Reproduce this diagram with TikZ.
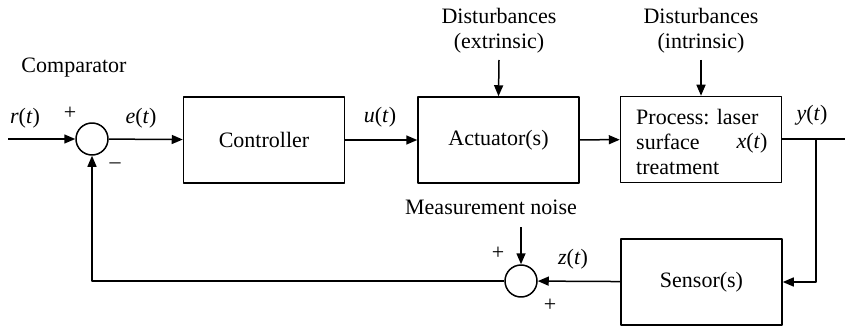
\documentclass[tikz,border=0pt]{standalone}
\usepackage{fontspec}
\setmainfont{Liberation Serif}
\usetikzlibrary{arrows.meta}
\tikzset{
  every picture/.style={line join=round, >={Triangle[length=11pt,width=9pt]}},
  blk/.style={draw, line width=1.5pt, minimum width=161pt, minimum height=86pt, inner sep=0pt},
  sumc/.style={draw, circle, line width=1.5pt, minimum size=32pt, inner sep=0pt},
  sig/.style={inner sep=0pt},
  wire/.style={line width=1.5pt},
}
\newcommand{\sg}[1]{\textit{#1}(\textit{t})}

\begin{document}
\begin{tikzpicture}[x=1pt,y={(0pt,-1pt)},font=\fontsize{22}{25}\selectfont]
\useasboundingbox (0,0) rectangle (845,326);
% blocks
\node[sumc](sum1) at (92,139) {};
\node[blk](ctrl) at (264,140) {Controller};
\node[blk](act) at (498.5,140) {Actuator(s)};
\node[blk](proc) at (701,139.5) {};
\node[sig,align=left,anchor=west](proctxt) at (636,142) {Process: laser\\surface\\treatment};
\node[blk](sens) at (701.5,282) {Sensor(s)};
\node[sumc](sum2) at (521,281) {};
% texts
\node[sig](cmp) at (74,68) {Comparator};
\node[sig,align=center](dext) at (499,31) {Disturbances\\(extrinsic)};
\node[sig,align=center](dint) at (701,31) {Disturbances\\(intrinsic)};
\node[sig](noise) at (491,207) {Measurement noise};
\node[sig](rl) at (25,118) {\sg{r}};
\node[sig](p1) at (70,113) {+};
\node[sig](el) at (141,118) {\sg{e}};
\node[sig](m1) at (115,166) {--};
\node[sig](ul) at (380,117) {\sg{u}};
\node[sig](xl) at (752,143) {\sg{x}};
\node[sig](yl) at (812,115) {\sg{y}};
\node[sig](zl) at (573,259) {\sg{z}};
\node[sig](p2) at (498,253) {+};
\node[sig](p3) at (550,305) {+};
% free ends
\coordinate(in) at (8,139);
\coordinate(out) at (856,139);
\coordinate(br) at (816,139);
\coordinate(dx) at (499,60);
\coordinate(di) at (701,60);
\coordinate(nz) at (521,227);
% connectors
\draw[wire,->](in)--(sum1);
\draw[wire,->](sum1)--(ctrl);
\draw[wire,->](ctrl)--(act);
\draw[wire,->](act)--(proc);
\draw[wire,->](proc.east|-br)--(out);
\draw[wire,->](br)|-(sens.east);
\draw[wire,->](sens)--(sum2);
\draw[wire,->](sum2.west)-|(sum1.south);
\draw[wire,->](dx)--(act.north);
\draw[wire,->](di)--(proc.north);
\draw[wire,->](nz)--(sum2.north);
\end{tikzpicture}
\end{document}
